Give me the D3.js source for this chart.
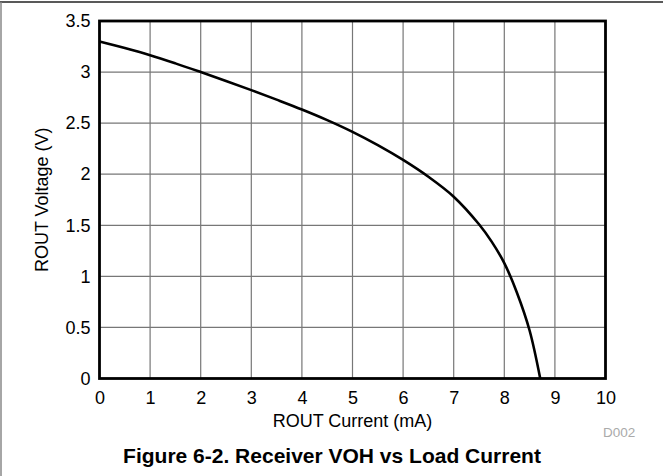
<!DOCTYPE html>
<html>
<head>
<meta charset="utf-8">
<script src="https://cdn.jsdelivr.net/npm/d3@7"></script>
<style>
  body { margin: 0; background: #fff; }
  svg { display: block; font-family: "Liberation Sans", Arial, sans-serif; }
</style>
</head>
<body>
<svg id="chart" width="663" height="476"></svg>
<script>
// data
var current = [0, 0.5, 1, 1.5, 2, 2.5, 3, 3.5, 4, 4.5, 5, 5.5, 6, 6.5, 7, 7.5, 7.75, 8, 8.25, 8.5, 8.71];
var voltage = [3.30, 3.235, 3.165, 3.085, 3.0, 2.913, 2.823, 2.73, 2.634, 2.53, 2.415, 2.285, 2.14, 1.975, 1.78, 1.51, 1.34, 1.13, 0.84, 0.47, 0];
var xTicks = [0, 1, 2, 3, 4, 5, 6, 7, 8, 9, 10];
var yTicks = [0, 0.5, 1, 1.5, 2, 2.5, 3, 3.5];

var svg = d3.select('#chart');
// plot box (note: "top" is taken by window.top)
var plotLeft = 99.5, plotRight = 605.5, plotTop = 21, plotBottom = 378.5;
var width = plotRight - plotLeft, height = plotBottom - plotTop;

// figure border (top and left only visible)
svg.append('line').attr('x1', 0).attr('x2', 663).attr('y1', 2).attr('y2', 2)
  .attr('stroke', '#222').attr('stroke-width', 1.5);
svg.append('line').attr('x1', 1).attr('x2', 1).attr('y1', 2).attr('y2', 476)
  .attr('stroke', '#888').attr('stroke-width', 1.5);

var x = d3.scaleLinear().domain([0, 10]).range([0, width]);
var y = d3.scaleLinear().domain([0, 3.5]).range([height, 0]);

var g = svg.append('g').attr('transform', 'translate(' + plotLeft + ',' + plotTop + ')');

// grid
g.append('g').selectAll('line').data(xTicks.slice(1, -1)).enter().append('line')
  .attr('x1', function(d) { return x(d); }).attr('x2', function(d) { return x(d); })
  .attr('y1', 0).attr('y2', height)
  .attr('stroke', '#777').attr('stroke-width', 1.2);
g.append('g').selectAll('line').data(yTicks.slice(1, -1)).enter().append('line')
  .attr('y1', function(d) { return y(d); }).attr('y2', function(d) { return y(d); })
  .attr('x1', 0).attr('x2', width)
  .attr('stroke', '#777').attr('stroke-width', 1.2);

// axes labels
var xAxis = g.append('g').attr('transform', 'translate(0,' + height + ')')
  .call(d3.axisBottom(x).tickValues(xTicks).tickSize(0).tickPadding(13).tickFormat(d3.format('')));
var yAxis = g.append('g')
  .call(d3.axisLeft(y).tickValues(yTicks).tickSize(0).tickPadding(9).tickFormat(d3.format('')));
[xAxis, yAxis].forEach(function(a) {
  a.select('.domain').remove();
  a.selectAll('text').attr('font-size', 18).attr('fill', '#000')
    .attr('font-family', '"Liberation Sans", Arial, sans-serif');
});

// curve
var points = current.map(function(c, i) { return [c, voltage[i]]; });
var line = d3.line()
  .x(function(d) { return x(d[0]); })
  .y(function(d) { return y(d[1]); })
  .curve(d3.curveCatmullRom.alpha(0.5));
g.append('path').datum(points).attr('d', line)
  .attr('fill', 'none').attr('stroke', '#000').attr('stroke-width', 2.6);

// frame
g.append('rect').attr('width', width).attr('height', height)
  .attr('fill', 'none').attr('stroke', '#000').attr('stroke-width', 2.8);

// titles
svg.append('text').attr('x', plotLeft + width / 2).attr('y', 427)
  .attr('text-anchor', 'middle').attr('font-size', 18).text('ROUT Current (mA)');
svg.append('text').attr('transform', 'translate(48,' + (plotTop + height / 2) + ') rotate(-90)')
  .attr('text-anchor', 'middle').attr('font-size', 18).text('ROUT Voltage (V)');
svg.append('text').attr('x', 603).attr('y', 436.5)
  .attr('font-size', 13.5).attr('fill', '#aaa').text('D002');
svg.append('text').attr('x', 332).attr('y', 463)
  .attr('text-anchor', 'middle').attr('font-size', 21).attr('font-weight', 'bold')
  .text('Figure 6-2. Receiver VOH vs Load Current');
</script>
</body>
</html>
